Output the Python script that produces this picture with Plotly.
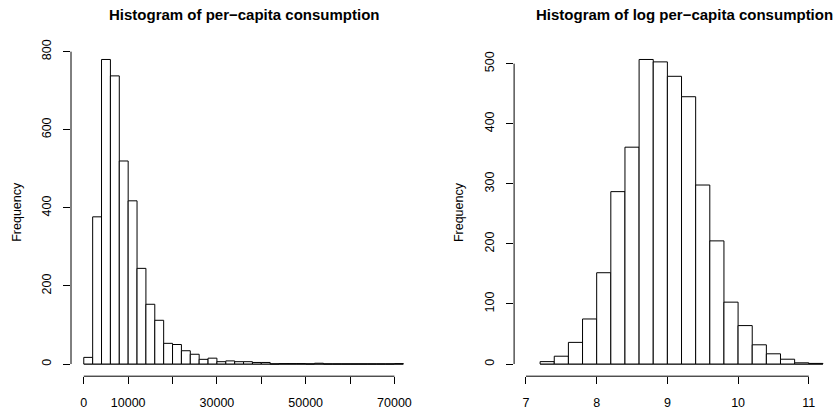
import numpy as np
import plotly.graph_objects as go

# ---------------- data ----------------
cons_bin_start = 0
cons_bin_width = 2000
cons_counts = [17, 377, 780, 738, 520, 418, 245, 153, 112, 53, 50, 34, 25, 12,
               15, 6, 8, 6, 6, 4, 4, 0, 1, 1, 1, 0, 2, 0, 0, 0, 0, 0, 0, 0, 0, 1]
cons_xticks = [0, 10000, 20000, 30000, 40000, 50000, 60000, 70000]
cons_xlabels = ["0", "10000", "", "30000", "", "50000", "", "70000"]
cons_yticks = [0, 200, 400, 600, 800]

log_bin_start = 7.2
log_bin_width = 0.2
log_counts = [4, 13, 36, 75, 152, 287, 361, 507, 503, 479, 445, 298, 205, 103,
              64, 32, 17, 8, 2, 1]
log_xticks = [7, 8, 9, 10, 11]
log_yticks = [0, 100, 200, 300, 400, 500]

titles = ["Histogram of per\u2212capita consumption",
          "Histogram of log per\u2212capita consumption"]
ylabel = "Frequency"

# ---------------- layout helpers ----------------
W, H = 838, 410
FONT = "Liberation Sans, Arial, Helvetica, sans-serif"


def fx(p):
    return p / W


def fy(p):
    return 1 - p / H


def bins(start, width, counts):
    n = len(counts)
    edges = start + width * np.arange(n + 1)
    centers = (edges[:-1] + edges[1:]) / 2
    return edges, centers


cons_edges, cons_centers = bins(cons_bin_start, cons_bin_width, cons_counts)
log_edges, log_centers = bins(log_bin_start, log_bin_width, log_counts)

fig = go.Figure()
bar_style = dict(color="white", line=dict(color="black", width=1))
fig.add_trace(go.Bar(x=cons_centers, y=cons_counts, width=cons_bin_width,
                     marker=bar_style, xaxis="x", yaxis="y", showlegend=False,
                     hoverinfo="x+y"))
fig.add_trace(go.Bar(x=log_centers, y=log_counts, width=log_bin_width,
                     marker=bar_style, xaxis="x2", yaxis="y2", showlegend=False,
                     hoverinfo="x+y"))

tickfont = dict(family=FONT, size=12.5, color="black")
axis_common = dict(showgrid=False, zeroline=False, showline=False,
                   ticks="outside", ticklen=7, tickwidth=1, tickcolor="black",
                   tickfont=tickfont, fixedrange=True, automargin=False)

plot_top, plot_bot = 47.3, 376.2


def pad(lo, hi):
    d = (hi - lo) * 0.04
    return [lo - d, hi + d]


fig.update_layout(
    width=W, height=H,
    margin=dict(l=0, r=0, t=0, b=0, autoexpand=False),
    paper_bgcolor="white", plot_bgcolor="white",
    xaxis=dict(domain=[fx(71), fx(416.1)], range=pad(cons_edges[0], cons_edges[-1]),
               tickmode="array", tickvals=cons_xticks, ticktext=cons_xlabels,
               anchor="y", ticklabelstandoff=8, **axis_common),
    yaxis=dict(domain=[fy(plot_bot), fy(plot_top)], range=pad(0, max(cons_counts)),
               tickmode="array", tickvals=cons_yticks,
               ticktext=[str(v) for v in cons_yticks], tickangle=-90,
               anchor="x", ticklabelstandoff=7, **axis_common),
    xaxis2=dict(domain=[fx(514.1), fx(834.8)], range=pad(7.0, log_edges[-1]),
                tickmode="array", tickvals=log_xticks,
                ticktext=[str(v) for v in log_xticks], anchor="y2",
                ticklabelstandoff=8, **axis_common),
    yaxis2=dict(domain=[fy(plot_bot), fy(plot_top)], range=pad(0, max(log_counts)),
                tickmode="array", tickvals=log_yticks,
                ticktext=[str(v) for v in log_yticks], tickangle=-90,
                anchor="x2", ticklabelstandoff=7, **axis_common),
)

# R-style axis lines (span first to last tick only) and zero-count baseline
shapes = []
for xr, yr, xt, yt, edges in [("x", "y", cons_xticks, cons_yticks, cons_edges),
                              ("x2", "y2", log_xticks, log_yticks, log_edges)]:
    shapes.append(dict(type="line", xref=xr, yref=yr + " domain",
                       x0=xt[0], x1=xt[-1], y0=0, y1=0,
                       line=dict(color="black", width=1)))
    shapes.append(dict(type="line", xref=xr + " domain", yref=yr,
                       x0=0, x1=0, y0=yt[0], y1=yt[-1],
                       line=dict(color="black", width=1)))
    shapes.append(dict(type="line", xref=xr, yref=yr,
                       x0=edges[0], x1=edges[-1], y0=0, y1=0,
                       line=dict(color="black", width=1), layer="below"))
fig.update_layout(shapes=shapes)

annotations = [
    dict(text="<b>%s</b>" % titles[0], x=fx(243.5), y=fy(14), xref="paper", yref="paper",
         xanchor="center", yanchor="middle", showarrow=False,
         font=dict(family=FONT, size=15, color="black")),
    dict(text="<b>%s</b>" % titles[1], x=fx(684.5), y=fy(14), xref="paper", yref="paper",
         xanchor="center", yanchor="middle", showarrow=False,
         font=dict(family=FONT, size=15, color="black")),
    dict(text=ylabel, x=fx(17), y=fy(211.8), xref="paper", yref="paper",
         xanchor="center", yanchor="middle", textangle=-90, showarrow=False,
         font=dict(family=FONT, size=12.5, color="black")),
    dict(text=ylabel, x=fx(458.3), y=fy(211.8), xref="paper", yref="paper",
         xanchor="center", yanchor="middle", textangle=-90, showarrow=False,
         font=dict(family=FONT, size=12.5, color="black")),
]
fig.update_layout(annotations=annotations)

fig.write_html("out.html", config={"displayModeBar": False},
               post_script="document.body.style.margin='0';"
                           "document.body.style.overflow='hidden';")
